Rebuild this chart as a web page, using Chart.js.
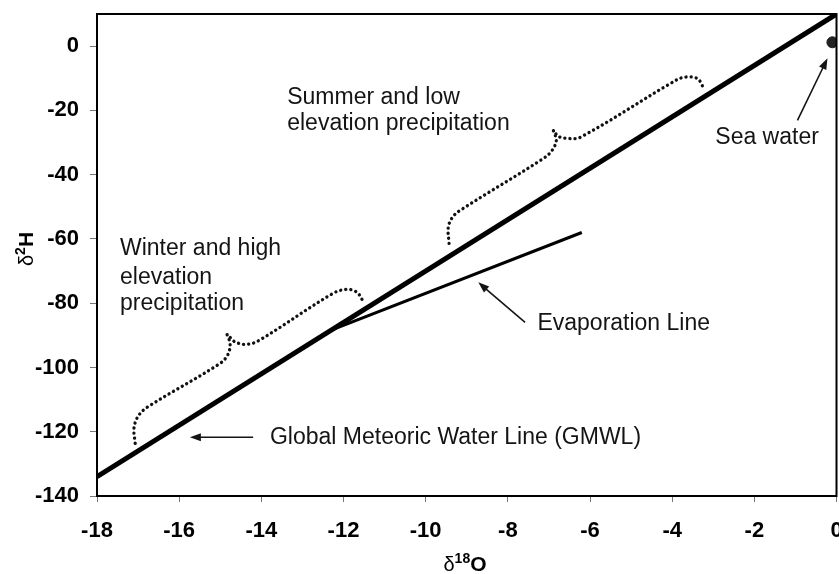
<!DOCTYPE html>
<html>
<head>
<meta charset="utf-8">
<script src="https://cdn.jsdelivr.net/npm/chart.js@4"></script>
<style>
  html, body { margin: 0; padding: 0; background: #fff; overflow: hidden; }
  #wrap { width: 843px; height: 574px; position: relative; }
</style>
</head>
<body>
<div id="wrap"><canvas id="c"></canvas></div>
<script>
// ---- data ----
const xTicks = [-18, -16, -14, -12, -10, -8, -6, -4, -2, 0];
const yTicks = [-140, -120, -100, -80, -60, -40, -20, 0];

const gmwlX = [-18, 0];
const gmwlY = [-134, 10];

const evapX = [-12.3, -6.2];
const evapY = [-88.4, -58];

const seaX = [-0.1];
const seaY = [1.2];

const winterBraceX = [-17.07, -17.10, -17.00, -16.78, -15.00, -14.81, -14.76, -14.83, -14.66, -14.40, -14.10, -12.25, -11.91, -11.67, -11.55];
const winterBraceY = [-123.6, -118.9, -115.2, -112.4, -98.7, -95.9, -92.5, -89.7, -91.9, -92.8, -91.9, -76.9, -75.7, -76.6, -78.8];

const summerBraceX = [-9.43, -9.45, -9.35, -9.16, -7.14, -6.92, -6.82, -6.89, -6.77, -6.55, -6.24, -4.04, -3.73, -3.39, -3.24];
const summerBraceY = [-61.4, -56.4, -53.3, -51.1, -35.0, -32.4, -29.3, -26.2, -28.1, -28.7, -28.4, -11.6, -9.74, -10.05, -12.85];

// ---- annotations (data coordinates) ----
const textLabels = [
  { lines: ['Summer and low', 'elevation precipitation'], x: -13.37, y: [-16.0, -24.1] },
  { lines: ['Winter and high', 'elevation', 'precipitation'], x: -17.44, y: [-62.9, -71.9, -80.0] },
  { lines: ['Global Meteoric Water Line (GMWL)'], x: -13.79, y: [-121.7] },
  { lines: ['Evaporation Line'], x: -7.28, y: [-86.3] },
  { lines: ['Sea water'], x: -2.95, y: [-28.4] }
];
const arrows = [
  { from: [-14.20, -121.7], to: [-15.74, -121.7] },
  { from: [-7.58, -86.0], to: [-8.72, -73.5] },
  { from: [-0.95, -23.1], to: [-0.22, -3.8] }
];

const pts = (xs, ys) => xs.map((x, i) => ({ x: x, y: ys[i] }));
const FONT = '"Liberation Sans", Arial, Helvetica, sans-serif';

const framePlugin = {
  id: 'frame',
  afterDatasetsDraw(chart) {
    const { ctx, chartArea: a } = chart;
    ctx.save();
    ctx.strokeStyle = '#000';
    ctx.lineWidth = 2;
    ctx.strokeRect(a.left, a.top, a.right - a.left, a.bottom - a.top);
    ctx.restore();
  }
};

const annotPlugin = {
  id: 'annot',
  afterDatasetsDraw(chart) {
    const { ctx } = chart;
    const sx = chart.scales.x, sy = chart.scales.y;
    ctx.save();
    ctx.fillStyle = '#141414';
    ctx.font = '23px ' + FONT;
    ctx.textAlign = 'left';
    ctx.textBaseline = 'middle';
    textLabels.forEach(t => {
      t.lines.forEach((ln, i) => {
        ctx.fillText(ln, sx.getPixelForValue(t.x), sy.getPixelForValue(t.y[i]));
      });
    });
    ctx.strokeStyle = '#141414';
    ctx.lineWidth = 1.6;
    arrows.forEach(a => {
      const x1 = sx.getPixelForValue(a.from[0]), y1 = sy.getPixelForValue(a.from[1]);
      const x2 = sx.getPixelForValue(a.to[0]), y2 = sy.getPixelForValue(a.to[1]);
      const ang = Math.atan2(y2 - y1, x2 - x1);
      const L = 11, W = 4;
      ctx.beginPath();
      ctx.moveTo(x1, y1);
      ctx.lineTo(x2 - Math.cos(ang) * L * 0.8, y2 - Math.sin(ang) * L * 0.8);
      ctx.stroke();
      ctx.beginPath();
      ctx.moveTo(x2, y2);
      ctx.lineTo(x2 - Math.cos(ang) * L + Math.sin(ang) * W, y2 - Math.sin(ang) * L - Math.cos(ang) * W);
      ctx.lineTo(x2 - Math.cos(ang) * L - Math.sin(ang) * W, y2 - Math.sin(ang) * L + Math.cos(ang) * W);
      ctx.closePath();
      ctx.fill();
    });

    // axis titles with superscripts
    const drawTitle = (parts) => {
      let w = 0;
      parts.forEach(p => { ctx.font = p.f; w += ctx.measureText(p.t).width; });
      let x = -w / 2;
      parts.forEach(p => {
        ctx.font = p.f;
        ctx.fillText(p.t, x, p.dy);
        x += ctx.measureText(p.t).width;
      });
    };
    ctx.fillStyle = '#000';
    ctx.textBaseline = 'alphabetic';
    ctx.textAlign = 'left';
    // x title
    ctx.save();
    ctx.translate(465, 571);
    drawTitle([
      { t: 'δ', f: '20px ' + FONT, dy: 0 },
      { t: '18', f: 'bold 14px ' + FONT, dy: -8 },
      { t: 'O', f: 'bold 21px ' + FONT, dy: 0 }
    ]);
    ctx.restore();
    // y title
    ctx.save();
    ctx.translate(33, 249);
    ctx.rotate(-Math.PI / 2);
    drawTitle([
      { t: 'δ', f: '20px ' + FONT, dy: 0 },
      { t: '2', f: 'bold 14px ' + FONT, dy: -8 },
      { t: 'H', f: 'bold 21px ' + FONT, dy: 0 }
    ]);
    ctx.restore();
    ctx.restore();
  }
};

const dotted = {
  borderColor: '#111',
  borderWidth: 3.3,
  borderDash: [0.1, 5],
  borderCapStyle: 'round',
  pointRadius: 0,
  tension: 0.35,
  fill: false,
  showLine: true
};

new Chart(document.getElementById('c'), {
  type: 'scatter',
  data: {
    datasets: [
      { label: 'GMWL', data: pts(gmwlX, gmwlY), showLine: true, borderColor: '#000', borderWidth: 5, pointRadius: 0, borderCapStyle: 'butt' },
      { label: 'Evaporation Line', data: pts(evapX, evapY), showLine: true, borderColor: '#000', borderWidth: 3, pointRadius: 0 },
      Object.assign({ label: 'Winter', data: pts(winterBraceX, winterBraceY) }, dotted),
      Object.assign({ label: 'Summer', data: pts(summerBraceX, summerBraceY) }, dotted),
      { label: 'Sea water', data: pts(seaX, seaY), pointRadius: 5.5, pointBackgroundColor: '#222', pointBorderColor: '#222', showLine: false }
    ]
  },
  options: {
    responsive: true,
    maintainAspectRatio: false,
    animation: false,
    layout: { padding: { top: 14, right: 3, left: 0, bottom: 0 } },
    plugins: { legend: { display: false }, tooltip: { enabled: false } },
    scales: {
      x: {
        type: 'linear', min: -18, max: 0,
        afterBuildTicks: s => { s.ticks = xTicks.map(v => ({ value: v })); },
        afterFit: s => { s.height = 78; s.paddingLeft = 0; s.paddingRight = 0; },
        grid: { drawOnChartArea: false, drawTicks: true, tickLength: 6, color: '#777', lineWidth: 1 },
        border: { display: false },
        ticks: { color: '#000', font: { family: FONT, size: 22, weight: 'bold' }, padding: 16, maxRotation: 0, autoSkip: false }
      },
      y: {
        type: 'linear', min: -140, max: 10,
        afterBuildTicks: s => { s.ticks = yTicks.map(v => ({ value: v })); },
        afterFit: s => { s.width = 97; s.paddingTop = 0; s.paddingBottom = 0; },
        grid: { drawOnChartArea: false, drawTicks: true, tickLength: 7, color: '#777', lineWidth: 1 },
        border: { display: false },
        ticks: { color: '#000', font: { family: FONT, size: 22, weight: 'bold' }, padding: 11, autoSkip: false }
      }
    }
  },
  plugins: [framePlugin, annotPlugin]
});
</script>
</body>
</html>
